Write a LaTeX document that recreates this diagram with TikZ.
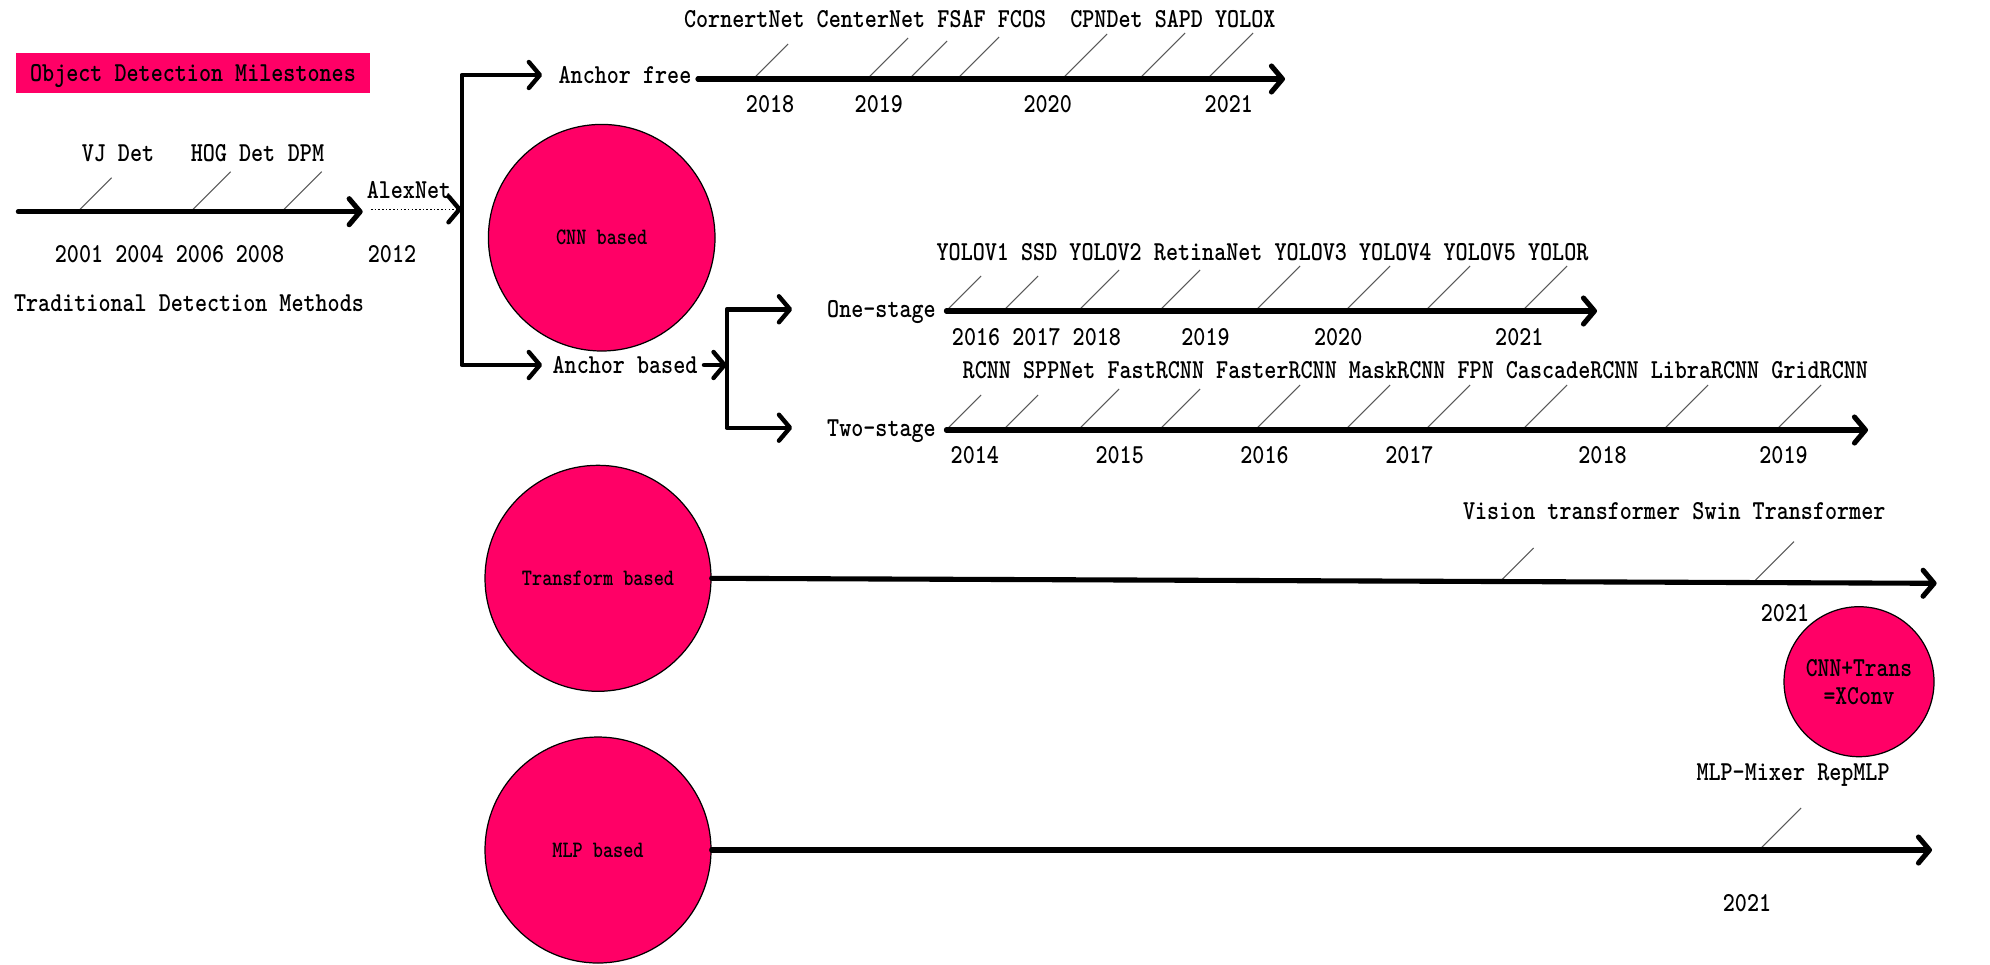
\documentclass[tikz,border=0pt]{standalone}
\usepackage{graphicx}
\usetikzlibrary{arrows.meta}
\definecolor{milepink}{RGB}{255,0,102}
\newcommand{\squeeze}[1]{\scalebox{0.82}[1]{#1}}

\begin{document}
\begin{tikzpicture}[>={Straight Barb[round, length=1.1mm, width=2.6mm]},
    every node/.style={font=\ttfamily\bfseries\fontsize{7.8}{8}\selectfont},
    lbl/.style={inner sep=0pt, text height=4.75pt, text depth=0pt, xscale=0.838},
    bubble/.style={circle, draw, line width=0.35pt, fill=milepink, inner sep=0pt, font=\ttfamily\bfseries\fontsize{6.7}{8}\selectfont},
    axis/.style={->, line width=1.45pt, line cap=round},
    branch/.style={line width=1.25pt, line cap=round, line join=round},
    tick/.style={line width=0.3pt, black!65}]
    \useasboundingbox (0, 0) rectangle (19.9, -9.64);

    \node (title) at (1.93, -0.73) [lbl, fill=milepink, minimum width=4.236cm, minimum height=0.40cm] {Object Detection Milestones};

    \node (vj) at (1.18, -1.53) [lbl] {VJ Det};
    \node (hog) at (2.33, -1.53) [lbl] {HOG Det};
    \node (dpm) at (3.06, -1.53) [lbl] {DPM};
    \node (y2001) at (0.79, -2.54) [lbl] {2001};
    \node (y2004) at (1.395, -2.54) [lbl] {2004};
    \node (y2006) at (2.0, -2.54) [lbl] {2006};
    \node (y2008) at (2.6, -2.54) [lbl] {2008};
    \node (y2012) at (3.92, -2.54) [lbl] {2012};
    \node (alexnet) at (4.09, -1.90) [lbl] {AlexNet};
    \node (trad) at (1.89, -3.03) [lbl] {Traditional Detection Methods};
    \coordinate (t0) at (0.183, -2.117);
    \coordinate (t1) at (3.627, -2.117);
    \coordinate (a0) at (3.71, -2.093);
    \coordinate (fork1) at (4.617, -2.093);

    \node (cnn) at (6.017, -2.377) [bubble, minimum size=2.266cm] {\squeeze{CNN based}};
    \node (free) at (6.25, -0.75) [lbl] {Anchor free};
    \node (based) at (6.25, -3.65) [lbl] {Anchor based};
    \coordinate (fork2) at (7.267, -3.65);
    \coordinate (freeend) at (12.85, -0.79);

    \node (cornernet) at (7.444, -0.19) [lbl] {CornertNet};
    \node (centernet) at (8.71, -0.19) [lbl] {CenterNet};
    \node (fsaf) at (9.616, -0.19) [lbl] {FSAF};
    \node (fcos) at (10.22, -0.19) [lbl] {FCOS};
    \node (cpndet) at (11.065, -0.19) [lbl] {CPNDet};
    \node (sapd) at (11.789, -0.19) [lbl] {SAPD};
    \node (yolox) at (12.453, -0.19) [lbl] {YOLOX};
    \node (f2018) at (7.701, -1.043) [lbl] {2018};
    \node (f2019) at (8.788, -1.043) [lbl] {2019};
    \node (f2020) at (10.477, -1.043) [lbl] {2020};
    \node (f2021) at (12.288, -1.043) [lbl] {2021};

    \node (one) at (8.815, -3.093) [lbl] {One-stage};
    \node (two) at (8.815, -4.277) [lbl] {Two-stage};
    \coordinate (oneend) at (15.97, -3.11);
    \coordinate (twoend) at (18.68, -4.30);

    \node (yolov1) at (9.728, -2.517) [lbl] {YOLOV1};
    \node (ssd) at (10.392, -2.517) [lbl] {SSD};
    \node (yolov2) at (11.056, -2.517) [lbl] {YOLOV2};
    \node (retinanet) at (12.082, -2.517) [lbl] {RetinaNet};
    \node (yolov3) at (13.108, -2.517) [lbl] {YOLOV3};
    \node (yolov4) at (13.953, -2.517) [lbl] {YOLOV4};
    \node (yolov5) at (14.798, -2.517) [lbl] {YOLOV5};
    \node (yolor) at (15.582, -2.517) [lbl] {YOLOR};
    \node (o2016) at (9.761, -3.367) [lbl] {2016};
    \node (o2017) at (10.365, -3.367) [lbl] {2017};
    \node (o2018) at (10.968, -3.367) [lbl] {2018};
    \node (o2019) at (12.055, -3.367) [lbl] {2019};
    \node (o2020) at (13.382, -3.367) [lbl] {2020};
    \node (o2021) at (15.193, -3.367) [lbl] {2021};

    \node (rcnn) at (9.868, -3.70) [lbl] {RCNN};
    \node (sppnet) at (10.593, -3.70) [lbl] {SPPNet};
    \node (fastrcnn) at (11.558, -3.70) [lbl] {FastRCNN};
    \node (fasterrcnn) at (12.765, -3.70) [lbl] {FasterRCNN};
    \node (maskrcnn) at (13.972, -3.70) [lbl] {MaskRCNN};
    \node (fpn) at (14.757, -3.70) [lbl] {FPN};
    \node (cascadercnn) at (15.722, -3.70) [lbl] {CascadeRCNN};
    \node (libraercnn) at (17.05, -3.70) [lbl] {LibraRCNN};
    \node (gridrcnn) at (18.197, -3.70) [lbl] {GridRCNN};
    \node (s2014) at (9.748, -4.55) [lbl] {2014};
    \node (s2015) at (11.197, -4.55) [lbl] {2015};
    \node (s2016) at (12.645, -4.55) [lbl] {2016};
    \node (s2017) at (14.094, -4.55) [lbl] {2017};
    \node (s2018) at (16.025, -4.55) [lbl] {2018};
    \node (s2019) at (17.835, -4.55) [lbl] {2019};

    \node (trans) at (5.98, -5.783) [bubble, minimum size=2.26cm] {\squeeze{Transform based}};
    \coordinate (transend) at (19.366, -5.833);
    \node (vit) at (15.716, -5.107) [lbl] {Vision transformer};
    \node (swin) at (17.889, -5.107) [lbl] {Swin Transformer};
    \node (t2021) at (17.85, -6.127) [lbl] {2021};
    \node (xconv) at (18.59, -6.817) [bubble, minimum size=1.5cm, align=center, font=\ttfamily\bfseries\fontsize{7.8}{8}\selectfont] {\squeeze{CNN+Trans}\\\squeeze{=XConv}};

    \node (mlp) at (5.98, -8.50) [bubble, minimum size=2.26cm] {\squeeze{MLP based}};
    \coordinate (mlpend) at (19.32, -8.50);
    \node (mixer) at (17.508, -7.717) [lbl] {MLP-Mixer};
    \node (repmlp) at (18.534, -7.717) [lbl] {RepMLP};
    \node (m2021) at (17.47, -9.027) [lbl] {2021};

    \draw[tick] (0.776, -2.117) -- ++(0.34, 0.34);
    \draw[tick] (1.907, -2.117) -- ++(0.40, 0.40);
    \draw[tick] (2.817, -2.117) -- ++(0.40, 0.40);
    \draw[tick] (7.53, -0.79) -- ++(0.35, 0.35);
    \draw[tick] (8.67, -0.79) -- ++(0.41, 0.41);
    \draw[tick] (9.09, -0.79) -- ++(0.38, 0.38);
    \draw[tick] (9.57, -0.79) -- ++(0.42, 0.42);
    \draw[tick] (10.62, -0.79) -- ++(0.45, 0.45);
    \draw[tick] (11.39, -0.79) -- ++(0.46, 0.46);
    \draw[tick] (12.07, -0.79) -- ++(0.46, 0.46);
    \draw[tick] (9.46, -3.11) -- ++(0.35, 0.35);
    \draw[tick] (10.03, -3.11) -- ++(0.35, 0.35);
    \draw[tick] (10.78, -3.11) -- ++(0.41, 0.41);
    \draw[tick] (11.59, -3.11) -- ++(0.41, 0.41);
    \draw[tick] (12.55, -3.11) -- ++(0.45, 0.45);
    \draw[tick] (13.45, -3.11) -- ++(0.45, 0.45);
    \draw[tick] (14.25, -3.11) -- ++(0.45, 0.45);
    \draw[tick] (15.22, -3.11) -- ++(0.45, 0.45);
    \draw[tick] (9.46, -4.30) -- ++(0.35, 0.35);
    \draw[tick] (10.03, -4.30) -- ++(0.35, 0.35);
    \draw[tick] (10.78, -4.30) -- ++(0.41, 0.41);
    \draw[tick] (11.59, -4.30) -- ++(0.41, 0.41);
    \draw[tick] (12.55, -4.30) -- ++(0.45, 0.45);
    \draw[tick] (13.45, -4.30) -- ++(0.45, 0.45);
    \draw[tick] (14.25, -4.30) -- ++(0.45, 0.45);
    \draw[tick] (15.22, -4.30) -- ++(0.45, 0.45);
    \draw[tick] (16.63, -4.30) -- ++(0.45, 0.45);
    \draw[tick] (17.76, -4.30) -- ++(0.45, 0.45);
    \draw[tick] (15.0, -5.815) -- ++(0.335, 0.335);
    \draw[tick] (17.53, -5.826) -- ++(0.41, 0.41);
    \draw[tick] (17.59, -8.50) -- ++(0.42, 0.42);

    \draw[axis] (t0) to (t1);
    \draw[branch, line cap=butt, line width=0.45pt, dash pattern=on 0.45pt off 0.6pt, -{Straight Barb[round, length=1.1mm, width=2.6mm, line width=1.25pt]}] (a0) to (fork1);
    \draw[branch, <->, shorten <=1.6mm, shorten >=1mm] (free.west) -| (fork1) |- (based.west);
    \draw[axis, shorten <=0.6mm] (free.east |- freeend) to (freeend);
    \draw[branch, ->, shorten <=0.6mm] (based.east) to (fork2);
    \draw[branch, <->, shorten <=3.45mm, shorten >=3.45mm] (one.west) -| (fork2) |- (two.west);
    \draw[axis, shorten <=1mm] (one.east |- oneend) to (oneend);
    \draw[axis, shorten <=1mm] (two.east |- twoend) to (twoend);
    \draw[axis] (trans.east) to (transend);
    \draw[axis] (mlp.east) to (mlpend);
\end{tikzpicture}
\end{document}
